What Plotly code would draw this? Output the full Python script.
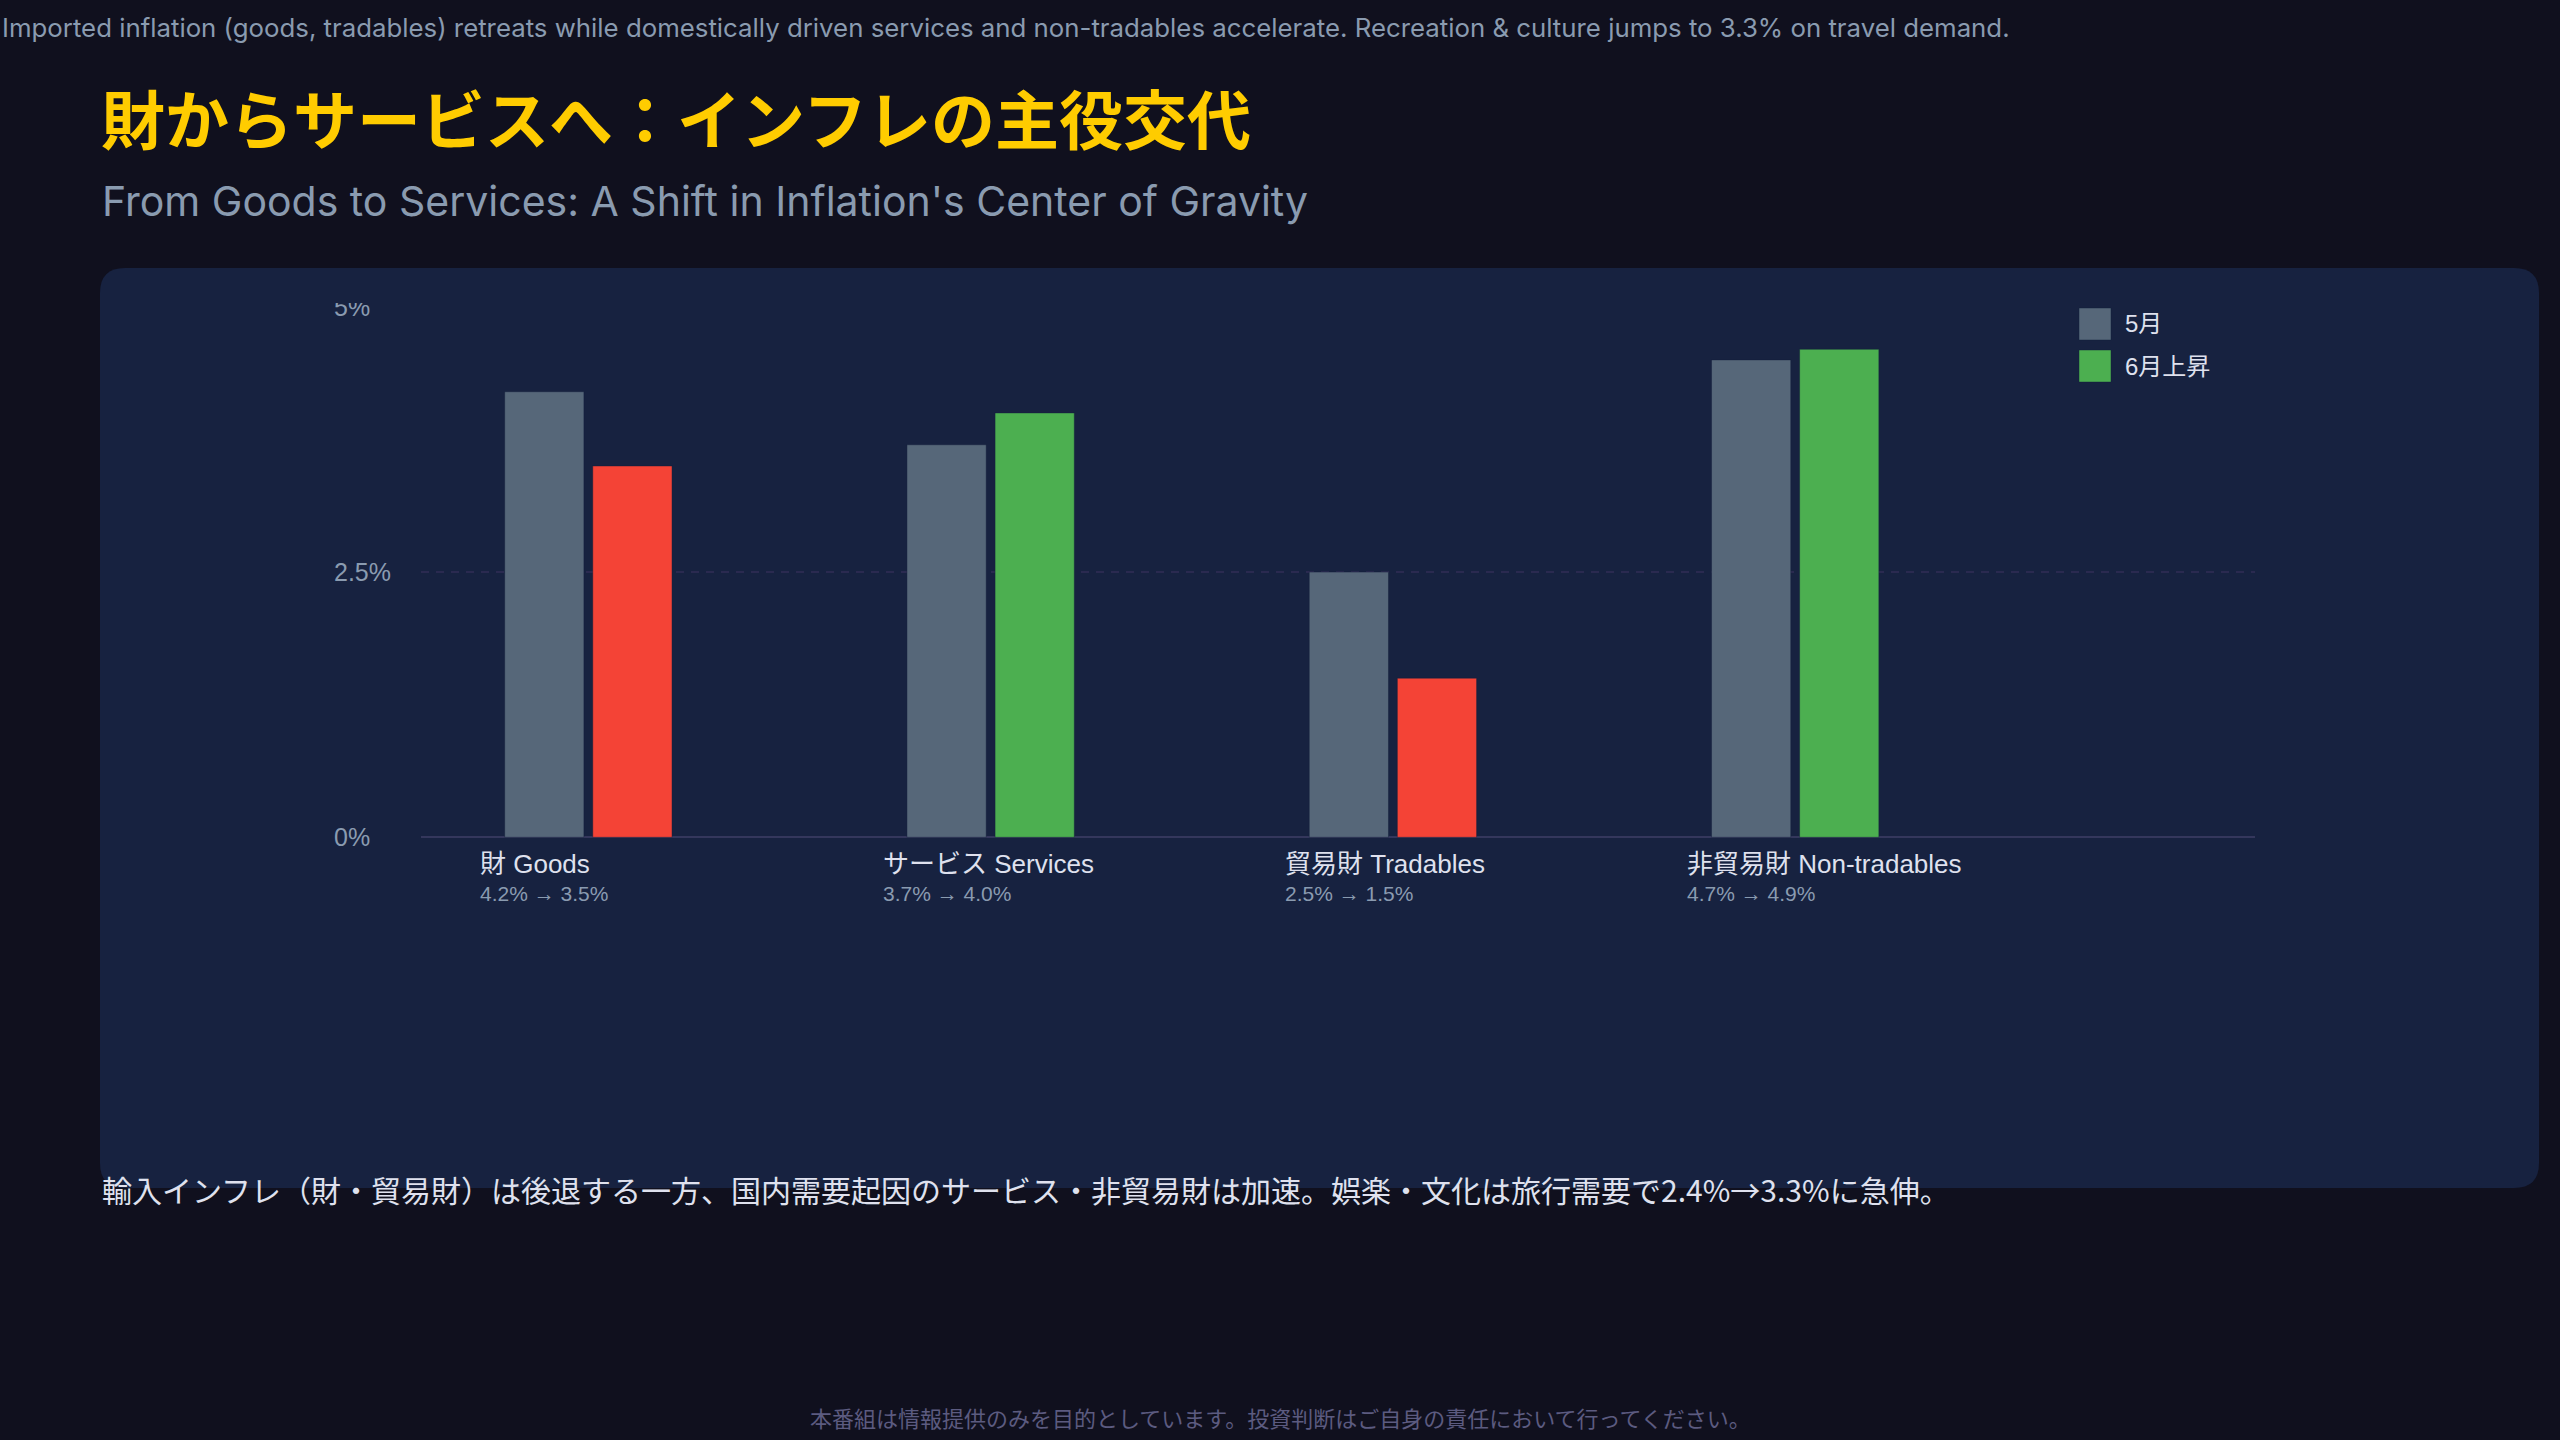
import plotly.graph_objects as go

# data
categories = ["財 Goods", "サービス Services", "貿易財 Tradables", "非貿易財 Non-tradables"]
change_notes = ["4.2% → 3.5%", "3.7% → 4.0%", "2.5% → 1.5%", "4.7% → 4.9%"]
may_values = [4.2, 3.7, 2.5, 4.5]
june_values = [3.5, 4.0, 1.5, 4.6]
y_ticks = [0, 2.5, 5]
y_tick_text = ["0%", "2.5%", "5%"]
may_name = "5月"
june_up_name = "6月上昇"
june_down_name = "6月下落"

top_note = ("Imported inflation (goods, tradables) retreats while domestically driven services and "
            "non-tradables accelerate. Recreation & culture jumps to 3.3% on travel demand.")
title = "財からサービスへ：インフレの主役交代"
subtitle = "From Goods to Services: A Shift in Inflation's Center of Gravity"
summary = "輸入インフレ（財・貿易財）は後退する一方、国内需要起因のサービス・非貿易財は加速。娯楽・文化は旅行需要で2.4%→3.3%に急伸。"
footer = "本番組は情報提供のみを目的としています。投資判断はご自身の責任において行ってください。"

# style
W, H = 2560, 1440
BG = "#10101e"
CARD = "#172240"
GREY = "#566779"
GREEN = "#4caf50"
RED = "#f44336"
MUTED = "#8a9bb0"
LIGHT = "#dfe1ee"
FONT = "Liberation Sans, Noto Sans CJK JP, sans-serif"
LATIN = "Inter, Noto Sans CJK JP, sans-serif"
CJK = "Noto Sans CJK JP, sans-serif"


def px(x):
    return x / W


def py(y):
    return 1 - y / H


def rounded_rect(x0, y0, x1, y1, r):
    pts = [
        f"M{px(x0 + r)},{py(y0)}", f"L{px(x1 - r)},{py(y0)}", f"Q{px(x1)},{py(y0)} {px(x1)},{py(y0 + r)}",
        f"L{px(x1)},{py(y1 - r)}", f"Q{px(x1)},{py(y1)} {px(x1 - r)},{py(y1)}",
        f"L{px(x0 + r)},{py(y1)}", f"Q{px(x0)},{py(y1)} {px(x0)},{py(y1 - r)}",
        f"L{px(x0)},{py(y0 + r)}", f"Q{px(x0)},{py(y0)} {px(x0 + r)},{py(y0)}", "Z",
    ]
    return " ".join(pts)


june_up = [v if v >= m else None for v, m in zip(june_values, may_values)]
june_down = [v if v < m else None for v, m in zip(june_values, may_values)]

bar_w = 0.197
outline = dict(width=1, color="rgba(20,30,60,0.45)")

fig = go.Figure()
fig.add_trace(go.Bar(x=categories, y=may_values, name=may_name, width=bar_w, offset=-0.208,
                     marker=dict(color=GREY, line=outline)))
fig.add_trace(go.Bar(x=categories, y=june_up, name=june_up_name, width=bar_w, offset=0.011,
                     marker=dict(color=GREEN, line=outline)))
fig.add_trace(go.Bar(x=categories, y=june_down, name=june_down_name, width=bar_w, offset=0.011,
                     marker=dict(color=RED, line=outline)))

# y axis: about 106 px per percent, zero at 837 px
fig.update_layout(
    width=W, height=H,
    margin=dict(l=0, r=0, t=0, b=0, pad=0, autoexpand=False),
    paper_bgcolor=BG, plot_bgcolor="rgba(0,0,0,0)",
    font=dict(family=FONT, color=LIGHT),
    barmode="overlay",
    showlegend=False,
    xaxis=dict(domain=[px(421), px(2255)], type="category", categoryarray=categories,
               range=[-0.416, 4.143], showticklabels=False, ticks="", showgrid=False, automargin=False,
               showline=False, zeroline=False, fixedrange=True),
    yaxis=dict(domain=[py(860), py(280)], range=[-0.214, 5.253], tickvals=y_ticks, ticktext=y_tick_text,
               anchor="free", position=px(330), ticklabelposition="inside",
               showgrid=False, zeroline=True, zerolinecolor="#34375c", zerolinewidth=2,
               showline=False, ticks="", automargin=False,
               tickfont=dict(size=25, color=MUTED), fixedrange=True),
)

# card behind the chart
fig.add_shape(type="path", path=rounded_rect(100, 268, 2539, 1188, 25), xref="paper", yref="paper",
              fillcolor=CARD, line=dict(width=0), layer="below")
# dashed reference line at 2.5%
fig.add_shape(type="line", xref="x domain", yref="y", x0=0, x1=1, y0=2.5, y1=2.5,
              line=dict(color="#2a2a50", width=2, dash="8px,7px"), layer="below")
# top of chart area is clipped in the source
fig.add_shape(type="rect", xref="paper", yref="paper", x0=px(300), x1=px(420), y0=py(303), y1=py(270),
              fillcolor=CARD, line=dict(width=0), layer="above")

ann = []
ann.append(dict(text=top_note, x=0, y=py(27), xanchor="left", yanchor="middle",
                font=dict(family=LATIN, size=25.8, color=MUTED)))
ann.append(dict(text=f"<b>{title}</b>", x=px(99), y=py(116), xanchor="left", yanchor="middle",
                font=dict(family=CJK, size=64, color="#ffcc00")))
ann.append(dict(text=subtitle, x=px(100), y=py(201), xanchor="left", yanchor="middle",
                font=dict(family=LATIN, size=41, color=MUTED)))
ann.append(dict(text=summary, x=px(100), y=py(1189), xanchor="left", yanchor="middle",
                font=dict(family=CJK, size=30, color=LIGHT)))
ann.append(dict(text=footer, x=0.5, y=py(1417), xanchor="center", yanchor="middle",
                font=dict(family=CJK, size=22, color="#5c5b80")))

for cat, note in zip(categories, change_notes):
    ann.append(dict(text=cat, x=cat, y=0, xref="x", yref="y", xanchor="left", yanchor="middle",
                    xshift=-110, yshift=-27, font=dict(size=26, color=LIGHT)))
    ann.append(dict(text=note, x=cat, y=0, xref="x", yref="y", xanchor="left", yanchor="middle",
                    xshift=-110, yshift=-56, font=dict(size=21, color=MUTED)))

# legend
for i, (name, color) in enumerate([(may_name, GREY), (june_up_name, GREEN)]):
    top = 308 + i * 42
    fig.add_shape(type="rect", xref="paper", yref="paper", x0=px(2079), x1=px(2111),
                  y0=py(top + 32), y1=py(top), fillcolor=color, line=dict(width=1, color="rgba(20,30,60,0.45)"))
    ann.append(dict(text=name, x=px(2123), y=py(top + 16), xanchor="left", yanchor="middle",
                    font=dict(size=24, color=LIGHT)))

for a in ann:
    a.setdefault("xref", "paper")
    a.setdefault("yref", "paper")
    a["showarrow"] = False
fig.update_layout(annotations=ann)

page_js = """
document.documentElement.style.margin = '0';
document.body.style.margin = '0';
document.documentElement.style.overflow = 'hidden';
document.body.style.overflow = 'hidden';
var gd = document.getElementById('{plot_id}');
gd.style.position = 'fixed';
gd.style.left = '0';
gd.style.top = '0';
"""

fig.write_html("out.html", config={"displayModeBar": False}, post_script=page_js)
